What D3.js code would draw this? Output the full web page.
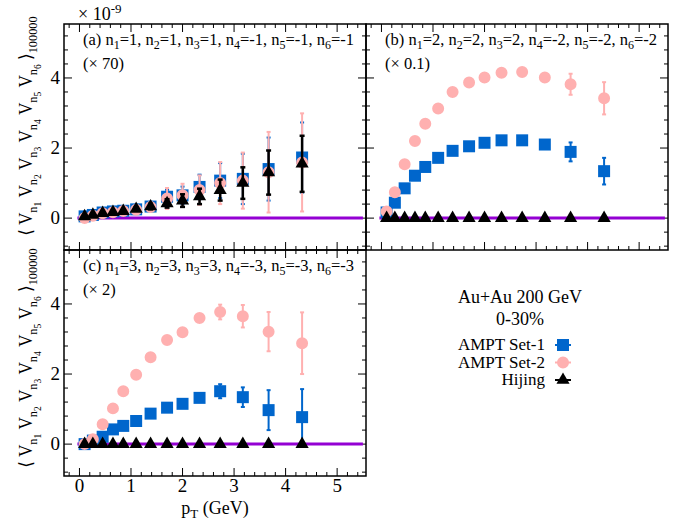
<!DOCTYPE html>
<html lang="en">
  <head>
    <meta charset="UTF-8" />
    <title>Six-particle correlator vs pT</title>
    <script src="https://d3js.org/d3.v7.min.js"></script>
    <style>
      body { margin: 0; background: #fff; }
      svg text { font-family: "Liberation Serif", "Times New Roman", "DejaVu Serif", serif; fill: #000; }
    </style>
  </head>
  <body>
    <div id="chart"></div>
    <script>
      // pT bin centres (GeV)
      const pT = [0.1, 0.26, 0.45, 0.65, 0.85, 1.1, 1.38, 1.7, 2.0, 2.33, 2.73, 3.17, 3.67, 4.32];

      // panel (a) n=1 (x70)
      const set1A = [0.05, 0.09, 0.16, 0.19, 0.21, 0.25, 0.33, 0.61, 0.65, 0.89, 1.07, 1.12, 1.4, 1.73];
      const set1AErr = [0.02, 0.02, 0.03, 0.03, 0.04, 0.05, 0.1, 0.2, 0.25, 0.35, 0.5, 0.72, 0.9, 1.0];
      const set2A = [0.0, 0.07, 0.14, 0.17, 0.2, 0.24, 0.32, 0.56, 0.65, 0.8, 1.0, 1.07, 1.31, 1.59];
      const set2AErr = [0.02, 0.02, 0.03, 0.03, 0.04, 0.06, 0.12, 0.3, 0.33, 0.42, 0.6, 0.8, 1.15, 1.4];
      const hijA = [0.05, 0.09, 0.14, 0.17, 0.2, 0.26, 0.33, 0.42, 0.5, 0.62, 0.8, 1.0, 1.3, 1.55];
      const hijAErr = [0.01, 0.02, 0.02, 0.03, 0.03, 0.05, 0.08, 0.12, 0.18, 0.22, 0.3, 0.45, 0.63, 0.8];

      // panel (b) n=2 (x0.1)
      const set1B = [0.16, 0.44, 0.85, 1.21, 1.46, 1.72, 1.92, 2.05, 2.15, 2.22, 2.22, 2.1, 1.89, 1.34];
      const set1BErr = [0.01, 0.01, 0.01, 0.01, 0.01, 0.01, 0.01, 0.02, 0.02, 0.03, 0.04, 0.08, 0.27, 0.38];
      const set2B = [0.19, 0.74, 1.54, 2.2, 2.69, 3.13, 3.6, 3.87, 4.01, 4.15, 4.17, 4.01, 3.82, 3.42];
      const set2BErr = [0.01, 0.01, 0.01, 0.01, 0.01, 0.01, 0.02, 0.02, 0.03, 0.04, 0.05, 0.1, 0.3, 0.46];
      const hijB = [0, 0, 0, 0, 0, 0, 0, 0, 0, 0, 0, 0, 0, 0];
      const hijBErr = [0, 0, 0, 0, 0, 0, 0, 0, 0, 0, 0, 0, 0, 0];

      // panel (c) n=3 (x2)
      const set1C = [0.0, 0.1, 0.21, 0.42, 0.52, 0.66, 0.87, 1.04, 1.15, 1.32, 1.51, 1.34, 0.97, 0.77];
      const set1CErr = [0.01, 0.01, 0.01, 0.02, 0.02, 0.03, 0.03, 0.04, 0.05, 0.08, 0.2, 0.28, 0.57, 0.8];
      const set2C = [0.0, 0.14, 0.57, 1.02, 1.51, 1.98, 2.48, 2.97, 3.19, 3.6, 3.77, 3.65, 3.21, 2.88];
      const set2CErr = [0.01, 0.01, 0.01, 0.02, 0.02, 0.03, 0.03, 0.04, 0.05, 0.08, 0.21, 0.32, 0.56, 0.88];
      const hijC = [0, 0, 0, 0, 0, 0, 0, 0, 0, 0, 0, 0, 0, 0];
      const hijCErr = [0, 0, 0, 0, 0, 0, 0, 0, 0, 0, 0, 0, 0, 0];

      const xTicks = [0, 1, 2, 3, 4, 5];
      const yTicks = [0, 2, 4];
      const seriesNames = ["AMPT Set-1", "AMPT Set-2", "Hijing"];

      const panels = [
        { id: "a", x0: 64, y0: 24, n: [1, 1, 1, -1, -1, -1], scale: "(× 70)", yLabels: true, xLabels: false,
          s1: set1A, e1: set1AErr, s2: set2A, e2: set2AErr, h: hijA, eh: hijAErr },
        { id: "b", x0: 366, y0: 24, n: [2, 2, 2, -2, -2, -2], scale: "(× 0.1)", yLabels: false, xLabels: false,
          s1: set1B, e1: set1BErr, s2: set2B, e2: set2BErr, h: hijB, eh: hijBErr },
        { id: "c", x0: 64, y0: 250, n: [3, 3, 3, -3, -3, -3], scale: "(× 2)", yLabels: true, xLabels: true,
          s1: set1C, e1: set1CErr, s2: set2C, e2: set2CErr, h: hijC, eh: hijCErr },
      ];

      const W = 689, H = 523;
      const pw = 302, ph = 226;
      const blue = "#0066cc", pink = "#ffb0b0", purple = "#9400d3";
      const serif = '"Liberation Serif", "Times New Roman", "DejaVu Serif", serif';

      const svg = d3.select("#chart").append("svg").attr("width", W).attr("height", H)
        .attr("font-family", serif);

      const x = d3.scaleLinear().domain([-0.3, 5.56]).range([0, pw]);
      const y = d3.scaleLinear().domain([-0.91, 5.54]).range([ph, 0]);

      const sqr = d3.symbol().type(d3.symbolSquare).size(144)();
      const circ = d3.symbol().type(d3.symbolCircle).size(113)();
      const tri = d3.symbol().type(d3.symbolTriangle).size(75)();

      function drawSeries(g, vals, errs, color, path, capW, lw) {
        const pts = pT.map((p, i) => ({ p, v: vals[i], e: errs[i] }));
        const eb = g.append("g");
        pts.filter((d) => d.e > 0).forEach((d) => {
          eb.append("line").attr("x1", x(d.p)).attr("x2", x(d.p))
            .attr("y1", y(d.v - d.e)).attr("y2", y(d.v + d.e))
            .attr("stroke", color).attr("stroke-width", lw);
          [d.v - d.e, d.v + d.e].forEach((v) => {
            eb.append("line").attr("x1", x(d.p) - capW).attr("x2", x(d.p) + capW)
              .attr("y1", y(v)).attr("y2", y(v)).attr("stroke", color).attr("stroke-width", lw);
          });
        });
        g.append("g").selectAll("path").data(pts).join("path")
          .attr("d", path)
          .attr("transform", (d) => `translate(${x(d.p)},${y(d.v)})`)
          .attr("fill", color);
      }

      function drawPanel(P) {
        const g = svg.append("g").attr("transform", `translate(${P.x0},${P.y0})`);

        // ticks on all four sides, pointing inward
        const minorX = d3.range(-0.2, 5.57, 0.2);
        const minorY = d3.range(-0.8, 5.54, 0.4);
        minorX.forEach((t) => {
          const major = Math.abs(t - Math.round(t)) < 1e-6;
          const len = major ? 8 : 4;
          g.append("line").attr("x1", x(t)).attr("x2", x(t)).attr("y1", ph).attr("y2", ph - len).attr("stroke", "#000");
          g.append("line").attr("x1", x(t)).attr("x2", x(t)).attr("y1", 0).attr("y2", len).attr("stroke", "#000");
        });
        minorY.forEach((t) => {
          const major = Math.abs(t / 2 - Math.round(t / 2)) < 1e-6;
          const len = major ? 8 : 4;
          g.append("line").attr("x1", 0).attr("x2", len).attr("y1", y(t)).attr("y2", y(t)).attr("stroke", "#000");
          g.append("line").attr("x1", pw).attr("x2", pw - len).attr("y1", y(t)).attr("y2", y(t)).attr("stroke", "#000");
        });

        // zero line
        g.append("line").attr("x1", x(-0.04)).attr("x2", x(5.5)).attr("y1", y(0)).attr("y2", y(0))
          .attr("stroke", purple).attr("stroke-width", 3);

        drawSeries(g, P.s1, P.e1, blue, sqr, 2, 2);
        drawSeries(g, P.s2, P.e2, pink, circ, 2, 2);
        drawSeries(g, P.h, P.eh, "#000", tri, 2.5, 2.5);

        g.append("rect").attr("width", pw).attr("height", ph).attr("fill", "none").attr("stroke", "#000").attr("stroke-width", 1.5);

        if (P.yLabels) {
          yTicks.forEach((t) => {
            g.append("text").attr("x", -4).attr("y", y(t) + 6).attr("text-anchor", "end")
              .attr("font-size", 19).text(t);
          });
        }
        if (P.xLabels) {
          xTicks.forEach((t) => {
            g.append("text").attr("x", x(t)).attr("y", ph + 16).attr("text-anchor", "middle")
              .attr("font-size", 19).text(t);
          });
        }

        // annotation
        const lab = g.append("text").attr("x", 19).attr("y", 21).attr("font-size", 16.5);
        lab.append("tspan").text(`(${P.id})  `);
        P.n.forEach((v, i) => {
          lab.append("tspan").text("n");
          lab.append("tspan").attr("font-size", 12).attr("dy", 4).text(i + 1);
          lab.append("tspan").attr("dy", -4).text(`=${v}` + (i < 5 ? ", " : ""));
        });
        g.append("text").attr("x", 19).attr("y", 45).attr("font-size", 16.5).text(P.scale);
      }

      panels.forEach(drawPanel);

      // common exponent
      const ex = svg.append("text").attr("x", 78).attr("y", 20).attr("font-size", 18);
      ex.append("tspan").text("× 10");
      ex.append("tspan").attr("font-size", 13).attr("dy", -7).text("-9");

      // y-axis titles
      function yTitle(cy) {
        const t = svg.append("text").attr("transform", `translate(32,${cy}) rotate(-90)`)
          .attr("text-anchor", "middle").attr("font-size", 18);
        t.append("tspan").text("⟨");
        for (let i = 1; i <= 6; i++) {
          t.append("tspan").text(" V");
          t.append("tspan").attr("font-size", 13).attr("dy", 5).text("n");
          t.append("tspan").attr("font-size", 10).attr("dy", 4).text(i);
          t.append("tspan").attr("dy", -9).text(" ");
        }
        t.append("tspan").text("⟩");
        t.append("tspan").attr("font-size", 13).attr("dy", 5).text("100000");
        const len = t.node().getComputedTextLength();
        const target = 218;
        if (len > target) {
          t.attr("transform", `translate(32,${cy}) rotate(-90) scale(${target / len},1)`);
        }
      }
      yTitle(126);
      yTitle(358);

      // x-axis title
      const xt = svg.append("text").attr("x", 215).attr("y", 514).attr("text-anchor", "middle").attr("font-size", 18);
      xt.append("tspan").text("p");
      xt.append("tspan").attr("font-size", 13).attr("dy", 4).text("T");
      xt.append("tspan").attr("dy", -4).text(" (GeV)");

      // legend
      svg.append("text").attr("x", 520).attr("y", 303).attr("text-anchor", "middle").attr("font-size", 18).text("Au+Au 200 GeV");
      svg.append("text").attr("x", 520).attr("y", 325).attr("text-anchor", "middle").attr("font-size", 18).text("0-30%");
      const legMarks = [
        { path: sqr, color: blue },
        { path: circ, color: pink },
        { path: tri, color: "#000" },
      ];
      seriesNames.forEach((name, i) => {
        const cy = 345 + i * 17.5;
        svg.append("text").attr("x", 545).attr("y", cy + 5).attr("text-anchor", "end").attr("font-size", 17).text(name);
        svg.append("line").attr("x1", 555).attr("x2", 571).attr("y1", cy).attr("y2", cy)
          .attr("stroke", legMarks[i].color).attr("stroke-width", 2);
        svg.append("path").attr("d", legMarks[i].path).attr("transform", `translate(563,${cy})`)
          .attr("fill", legMarks[i].color);
      });
    </script>
  </body>
</html>
